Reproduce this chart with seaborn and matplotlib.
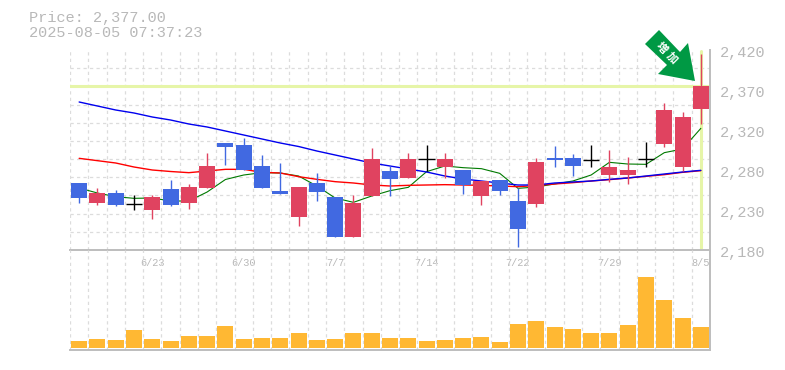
import numpy as np
import seaborn as sns
import matplotlib.pyplot as plt
from matplotlib.patches import Polygon
from matplotlib.transforms import ScaledTranslation

opens = [2260.4, 2236.4, 2248.4, 2234.8, 2228, 2253.2, 2236.4, 2254.4, 2308.4, 2306, 2280.8, 2250.8,
         2219.6, 2260.4, 2243.6, 2195.6, 2244.8, 2274.8, 2266.4, 2288.8, 2279.6, 2276, 2244.8, 2264,
         2238.8, 2235.2, 2290.4, 2290.4, 2287.6, 2270, 2270, 2288.8, 2307.2, 2279.6, 2349.2]
closes = [2242.4, 2248.4, 2234, 2234.8, 2243.6, 2234, 2255.6, 2280.8, 2303.6, 2276, 2254.4, 2247.2,
          2255.6, 2249.6, 2195.6, 2236.4, 2289.2, 2265.2, 2289.2, 2288.8, 2289.2, 2258, 2262.8, 2250.8,
          2205.2, 2285.6, 2288, 2280.8, 2287.6, 2279.6, 2276, 2288.8, 2348, 2339.6, 2377]
highs = [2260.4, 2254.4, 2252, 2245.6, 2246, 2264, 2259.2, 2296.4, 2308.4, 2314.4, 2294, 2284.4,
         2255.6, 2272.4, 2243.6, 2246, 2302.4, 2280.8, 2296.4, 2306, 2296.4, 2276, 2262.8, 2264,
         2254.4, 2290.4, 2304.8, 2295.2, 2306, 2300, 2291.6, 2309.6, 2356.4, 2345.6, 2415.2]
lows = [2236.4, 2234, 2232.8, 2228, 2217.2, 2232.8, 2229.2, 2254.4, 2282, 2276, 2254.4, 2247.2,
        2208.8, 2238.8, 2195.6, 2195.6, 2244.8, 2244.8, 2266.4, 2274.8, 2266.4, 2247.2, 2234, 2246,
        2183.6, 2231.6, 2279.6, 2268.8, 2279.6, 2261.6, 2259.2, 2279.6, 2303.6, 2274.8, 2331.2]

ma_blue = [2357.6, 2352.8, 2348, 2344.4, 2339.6, 2336, 2331.2, 2327.6, 2322.8, 2318, 2313.2, 2308.4,
           2304.2, 2298.8, 2294, 2289.2, 2284.4, 2280.8, 2277.2, 2273.6, 2268.8, 2265.2, 2262.8, 2260.4,
           2258, 2258, 2260.4, 2261.6, 2262.8, 2264.8, 2266.4, 2268.8, 2271.2, 2273.6, 2275.6]
ma_red = [2290, 2287.2, 2284.4, 2279.6, 2276, 2274.2, 2272.8, 2274.8, 2276.8, 2276.8, 2273.2, 2272.4,
          2268, 2264.8, 2262, 2260.4, 2258, 2256.8, 2257.6, 2258, 2258.4, 2258, 2257.6, 2256.8,
          2256, 2257.4, 2259.2, 2260.8, 2262.8, 2264.4, 2266.4, 2268.4, 2270.4, 2273.2, 2275.2]
ma_green = [2254.4, 2248.4, 2244, 2242, 2242.4, 2238.8, 2238.8, 2249.6, 2264.6, 2270, 2272.8, 2272.4,
            2268.8, 2256.8, 2242.4, 2237.2, 2244.8, 2251.2, 2255.2, 2274, 2280.8, 2278.8, 2277.6, 2272,
            2254, 2255.6, 2259.2, 2262.8, 2270, 2285.2, 2283.2, 2282.8, 2296.8, 2301.2, 2326]

volumes = [7, 9, 8, 18, 9, 7, 12, 12, 22, 9, 10, 10, 15, 8, 9, 15, 15, 10,
           10, 7, 8, 10, 11, 6, 24, 27, 21, 19, 15, 15, 23, 71, 48, 30, 21]

last_price = 2377
date_idx = [4, 9, 14, 19, 24, 29, 34]
date_labels = ['6/23', '6/30', '7/7', '7/14', '7/22', '7/29', '8/5']
price_ticks = [2420, 2372, 2324, 2276, 2228, 2180]
price_labels = ['2,420', '2,370', '2,320', '2,280', '2,230', '2,180']

W, H = 785, 370
days = np.arange(len(opens))
edge = np.arange(len(opens) + 1) - 0.5
grid_col = '#dcdcdc'
frame_col = '#bdbdbd'
text_col = '#b8b8b8'
hl_col = '#e6f5a8'
up_col = '#e04360'
down_col = '#4169e1'
grid_ls = (0, (2.6, 2.6))


def box(x0, y0, x1, y1):
    return [x0 / W, 1 - y1 / H, (x1 - x0) / W, (y1 - y0) / H]


def px(x, y):
    return x / W, 1 - y / H


sns.set_theme(style='white')
plt.rcParams['font.family'] = ['Liberation Mono', 'DejaVu Sans Mono']

fig = plt.figure(figsize=(W / 100, H / 100), dpi=100)
ax = fig.add_axes(box(70, 50, 710, 250))
ax_vol = fig.add_axes(box(70, 250, 710, 350))

# volume
sns.barplot(x=days, y=volumes, ax=ax_vol, color='#ffb833', saturation=1, width=0.875, zorder=3,
            edgecolor='none', linewidth=0, antialiased=False)
ax_vol.set_xlim(-0.5, 34.5)
ax_vol.set_ylim(-2, 98)
ax_vol.set_xlabel('')
ax_vol.set_ylabel('')
ax_vol.set_xticks([])
ax_vol.set_yticks([])
ax_vol.set_xticks(edge, minor=True)
ax_vol.grid(which='minor', axis='x', color=grid_col, lw=0.9, ls=grid_ls)
ax_vol.tick_params(which='both', length=0)
ax_vol.patch.set_visible(False)

# moving averages under the candles
sns.lineplot(x=days, y=ma_green, ax=ax, color='#007a00', lw=0.8, zorder=3, legend=False)
sns.lineplot(x=days, y=ma_red, ax=ax, color='#ff0000', lw=1.0, zorder=3, legend=False)
sns.lineplot(x=days, y=ma_blue, ax=ax, color='#0000ee', lw=1.0, zorder=3, legend=False)

ax.axhline(last_price, color=hl_col, lw=2.2, zorder=2)
ax.axvline(days[-1], color=hl_col, lw=2.2, ymin=0.005, ymax=0.995, zorder=2)

for d, o, c, h, l in zip(days, opens, closes, highs, lows):
    if o == c:
        ax.vlines(d, l, h, color='black', lw=1.0, zorder=4)
        ax.hlines(o, d - 0.45, d + 0.45, color='black', lw=1.0, zorder=4)
    else:
        col = up_col if c > o else down_col
        ax.vlines(d, l, h, color=col, lw=1.0, zorder=4)
        ax.bar(d, abs(c - o), bottom=min(o, c), width=0.875, color=col, edgecolor='none',
               linewidth=0, zorder=5, antialiased=False)

ax.set_xlim(-0.5, 34.5)
ax.set_ylim(2180, 2420)
ax.set_xticks(date_idx, date_labels, fontsize=7.4, color=text_col)
ax.set_xticks(edge, minor=True)
ax.set_yticks(price_ticks, price_labels, fontsize=11, color=text_col, va='center')
ax.set_yticks(np.linspace(2180, 2420, 12), minor=True)
ax.yaxis.tick_right()
ax.tick_params(which='both', length=0)
ax.tick_params(axis='x', pad=6)
ax.tick_params(axis='y', pad=7)
# the price labels sit a few pixels below their value
for lab in ax.get_yticklabels():
    lab.set_transform(lab.get_transform() + ScaledTranslation(0, -3 / 100, fig.dpi_scale_trans))
ax.grid(which='minor', color=grid_col, lw=0.9, ls=grid_ls)
ax.grid(which='major', visible=False)
ax.set_axisbelow(True)
ax.patch.set_visible(False)

for a in (ax, ax_vol):
    for s in a.spines.values():
        s.set_visible(False)
    a.spines['right'].set_visible(True)
    a.spines['right'].set_color(frame_col)
    a.spines['right'].set_linewidth(1.4)
    a.spines['bottom'].set_visible(True)
    a.spines['bottom'].set_color(frame_col)
    a.spines['bottom'].set_linewidth(1.4)

fig.text(*px(29, 18), 'Price: 2,377.00', fontsize=11, color=text_col, va='center')
fig.text(*px(29, 33), '2025-08-05 07:37:23', fontsize=11, color=text_col, va='center')

# stamp arrow
arrow = [(659, 30), (645, 44), (667, 65), (658, 74), (695, 81), (688, 43), (680, 52)]
fig.add_artist(Polygon([px(*p) for p in arrow], closed=True, transform=fig.transFigure,
                       facecolor='#009944', edgecolor='none'))
for ch, p in zip('増加', [(661.5, 47.5), (672, 57.5)]):
    fig.text(*px(*p), ch, family=['Noto Sans CJK JP'], fontsize=8, weight='bold', color='white',
             rotation=-45, ha='center', va='center', zorder=5)

fig.savefig('out.png', dpi=100)
